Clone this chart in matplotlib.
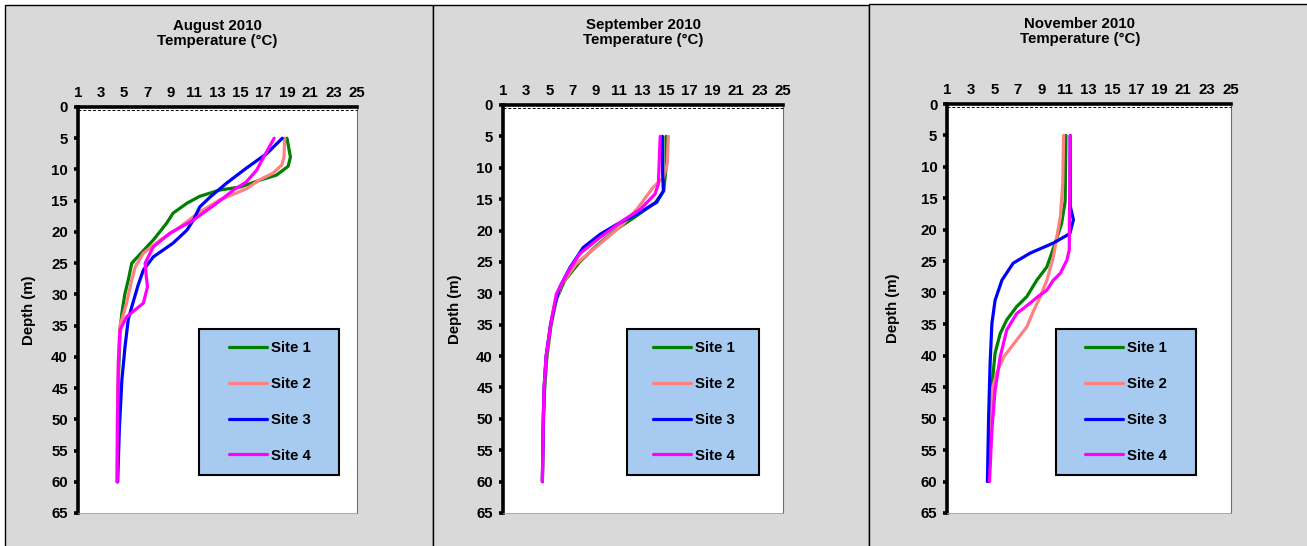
import matplotlib
matplotlib.use('Agg')
import matplotlib.pyplot as plt
from matplotlib.patches import Rectangle
from matplotlib import transforms as mtransforms

##########################################################################
# data
##########################################################################
sites = ['Site 1', 'Site 2', 'Site 3', 'Site 4']
colors = ['#008000', '#ff8080', '#0000ff', '#ff00ff']
x_ticks = list(range(1, 26, 2))
y_ticks = list(range(0, 66, 5))

# August 2010
aug_d1 = [5, 8, 9.5, 10.9, 11.7, 12.8, 13.3, 14.3, 15.4, 17, 18.6, 21.3, 25, 27.7, 30, 33, 35.7, 43.7, 50, 60]
aug_t1 = [19.0, 19.3, 19.1, 18.1, 16.7, 15.0, 13.2, 11.5, 10.4, 9.2, 8.65, 7.5, 5.65, 5.35, 5.05, 4.8, 4.64, 4.5, 4.45, 4.4]
aug_d2 = [5, 8, 9.3, 10.6, 11.6, 13.1, 14.9, 16.8, 19.2, 21.3, 23.4, 25.6, 27.7, 31.4, 33, 35, 40, 50, 60]
aug_t2 = [18.8, 18.75, 18.55, 17.8, 16.7, 15.5, 13.2, 11.5, 9.8, 8.1, 6.65, 5.95, 5.65, 5.2, 4.96, 4.64, 4.5, 4.42, 4.38]
aug_d3 = [5, 7.4, 9.8, 12.2, 14.4, 16, 18.1, 19.7, 21.8, 24, 26.1, 28.5, 32, 34, 38.4, 43.7, 51.7, 60]
aug_t3 = [18.6, 17.3, 15.5, 13.8, 12.4, 11.5, 10.95, 10.4, 9.2, 7.5, 6.65, 6.2, 5.65, 5.35, 5.07, 4.8, 4.58, 4.44]
aug_d4 = [5, 8, 10.1, 12, 13.3, 15.4, 18.1, 20.2, 22.4, 25, 27.1, 28.8, 31.4, 33.6, 35.7, 41, 50, 60]
aug_t4 = [17.9, 17.0, 16.4, 15.5, 14.4, 12.96, 10.95, 8.94, 7.5, 6.8, 6.9, 7.0, 6.65, 5.2, 4.64, 4.5, 4.42, 4.4]

# September 2010
sep_d1 = [5, 10, 13.7, 15.5, 17.5, 20, 22.5, 25, 28, 31, 35, 40, 45, 50, 60]
sep_t1 = [15.0, 15.0, 14.8, 14.1, 12.6, 10.6, 9.0, 7.6, 6.3, 5.6, 5.15, 4.8, 4.6, 4.5, 4.4]
sep_d2 = [5, 9.4, 11.6, 13.1, 16.6, 19, 22.1, 25.3, 28.5, 31.7, 35, 40, 45, 50, 60]
sep_t2 = [15.2, 15.1, 14.77, 13.9, 12.5, 11.3, 9.35, 7.3, 6.06, 5.48, 5.1, 4.75, 4.55, 4.48, 4.4]
sep_d3 = [5, 10.2, 13.7, 15.5, 17.4, 19, 20.6, 22.7, 25.9, 29, 31.7, 35, 40, 45, 50, 60]
sep_t3 = [14.7, 14.7, 14.77, 14.2, 12.5, 10.8, 9.35, 7.9, 6.77, 5.9, 5.48, 5.1, 4.72, 4.55, 4.48, 4.4]
sep_d4 = [5, 12.6, 14.2, 16.6, 18.4, 21.1, 23.7, 26.9, 30.1, 34, 40, 45, 50, 60]
sep_t4 = [14.5, 14.34, 14.05, 12.8, 11.3, 9.35, 7.6, 6.5, 5.6, 5.2, 4.72, 4.55, 4.48, 4.4]

# November 2010
nov_d1 = [5, 15.5, 19, 22.1, 25.9, 28, 30.6, 32.2, 34.3, 36.5, 39.6, 43.9, 50, 60]
nov_t1 = [11.07, 11.0, 10.7, 10.16, 9.45, 8.6, 7.76, 6.9, 6.06, 5.5, 5.07, 4.85, 4.7, 4.55]
nov_d2 = [5, 12.6, 17.9, 21.1, 24.3, 28, 30.6, 33, 35.4, 37.5, 40.2, 42.8, 45.5, 51.7, 60]
nov_t2 = [10.87, 10.8, 10.6, 10.3, 10.0, 9.46, 8.9, 8.3, 7.76, 6.9, 5.8, 5.2, 4.8, 4.6, 4.5]
nov_d3 = [5, 16.2, 18.4, 20.6, 22.1, 23.7, 25.3, 28, 31.2, 34.9, 41.2, 50, 60]
nov_t3 = [11.43, 11.43, 11.7, 11.4, 10.0, 8.04, 6.6, 5.65, 5.07, 4.8, 4.65, 4.52, 4.42]
nov_d4 = [5, 19, 23.2, 24.8, 26.9, 28, 29.6, 30.6, 31.7, 33.3, 35.9, 40.2, 45.5, 51.8, 60]
nov_t4 = [11.43, 11.36, 11.35, 11.15, 10.6, 10.0, 9.45, 8.7, 8.0, 6.9, 6.06, 5.5, 5.07, 4.8, 4.6]

##########################################################################
# layout (pixels of a 1307x546 canvas)
##########################################################################
W, H = 1307, 546
FS = 10.8

plt.rcParams['font.family'] = ['Liberation Sans', 'DejaVu Sans']
plt.rcParams['font.weight'] = 'bold'

panels = [
    {'title': 'August 2010\nTemperature (°C)',
     'depths': [aug_d1, aug_d2, aug_d3, aug_d4], 'temps': [aug_t1, aug_t2, aug_t3, aug_t4],
     'frame': (5, 5, 433), 'ax': (77.7, 107, 356.7, 513), 'title_xy': (217.5, 33.5),
     'ylab_x': 29, 'leg': (199, 329, 339, 475), 'leg_line': 229},
    {'title': 'September 2010\nTemperature (°C)',
     'depths': [sep_d1, sep_d2, sep_d3, sep_d4], 'temps': [sep_t1, sep_t2, sep_t3, sep_t4],
     'frame': (433, 5, 868.5), 'ax': (502.7, 105, 782.7, 513), 'title_xy': (643, 32.3),
     'ylab_x': 455, 'leg': (627, 329, 759, 475), 'leg_line': 653},
    {'title': 'November 2010\nTemperature (°C)',
     'depths': [nov_d1, nov_d2, nov_d3, nov_d4], 'temps': [nov_t1, nov_t2, nov_t3, nov_t4],
     'frame': (869, 4, 1320), 'ax': (947, 104, 1230.5, 513), 'title_xy': (1080, 31.3),
     'ylab_x': 893, 'leg': (1056, 329, 1196, 475), 'leg_line': 1085},
]


def px_rect(l, t, r, b):
    return [l / W, 1 - b / H, (r - l) / W, (b - t) / H]


def draw_panel(fig, p):
    # grey panel background
    l, t, r = p['frame']
    fig.add_artist(Rectangle((l / W, -0.05), (r - l) / W, 1.05 - t / H,
                             transform=fig.transFigure, facecolor='#d9d9d9',
                             edgecolor='black', lw=1, zorder=-1))

    al, at, ar, ab = p['ax']
    ax = fig.add_axes(px_rect(al, at, ar, ab))
    ax.set_facecolor('white')

    for d, tmp, c, s in zip(p['depths'], p['temps'], colors, sites):
        ax.plot(tmp, d, color=c, lw=2.3, label=s, solid_joinstyle='round',
                solid_capstyle='round')

    ax.set_xlim(1, 25)
    ax.set_ylim(65, 0)
    ax.set_xticks(x_ticks)
    ax.set_yticks(y_ticks)
    ax.xaxis.tick_top()
    ax.tick_params(axis='x', length=0, pad=5, labelsize=FS)
    ax.tick_params(axis='y', direction='out', length=3, width=2.6, pad=4, labelsize=FS)

    ax.spines['top'].set_linewidth(2.6)
    ax.spines['left'].set_linewidth(2.6)
    ax.spines['right'].set_linewidth(0.8)
    ax.spines['right'].set_color('#707070')
    ax.spines['bottom'].set_linewidth(0.6)
    ax.spines['bottom'].set_color('#a0a0a0')

    # dashed line under the top axis
    off = mtransforms.offset_copy(ax.transData, fig=fig, x=0, y=-2.6, units='dots')
    ax.plot([1, 25], [0, 0], color='black', lw=0.7, dashes=(3, 2), transform=off,
            clip_on=False, zorder=3)

    # titles and axis label
    tx, ty = p['title_xy']
    fig.text(tx / W, 1 - ty / H, p['title'], ha='center', va='center',
             fontsize=FS, fontweight='bold', linespacing=1.1)
    fig.text(p['ylab_x'] / W, 1 - ((at + ab) / 2) / H, 'Depth (m)', rotation=90,
             ha='center', va='center', fontsize=FS, fontweight='bold')

    # legend box
    ll, lt, lr, lb = p['leg']
    fx = lambda x: (x - al) / (ar - al)
    fy = lambda y: (ab - y) / (ab - at)
    ax.add_patch(Rectangle((fx(ll), fy(lb)), fx(lr) - fx(ll), fy(lt) - fy(lb),
                           transform=ax.transAxes, facecolor='#a6caf0',
                           edgecolor='black', lw=1.5, zorder=5))
    leg = ax.legend(loc='center left', bbox_to_anchor=(fx(p['leg_line']), fy((lt + lb) / 2)),
                    frameon=False, borderpad=0, borderaxespad=0, handlelength=2.5,
                    handletextpad=0.33, labelspacing=1.45, fontsize=FS)
    leg.set_zorder(6)
    for line in leg.get_lines():
        line.set_linewidth(2.3)
    return ax


if __name__ == '__main__':
    fig = plt.figure(figsize=(W / 100, H / 100), dpi=100)
    fig.patch.set_facecolor('white')
    for p in panels:
        draw_panel(fig, p)
    fig.savefig('out.png', dpi=100)
